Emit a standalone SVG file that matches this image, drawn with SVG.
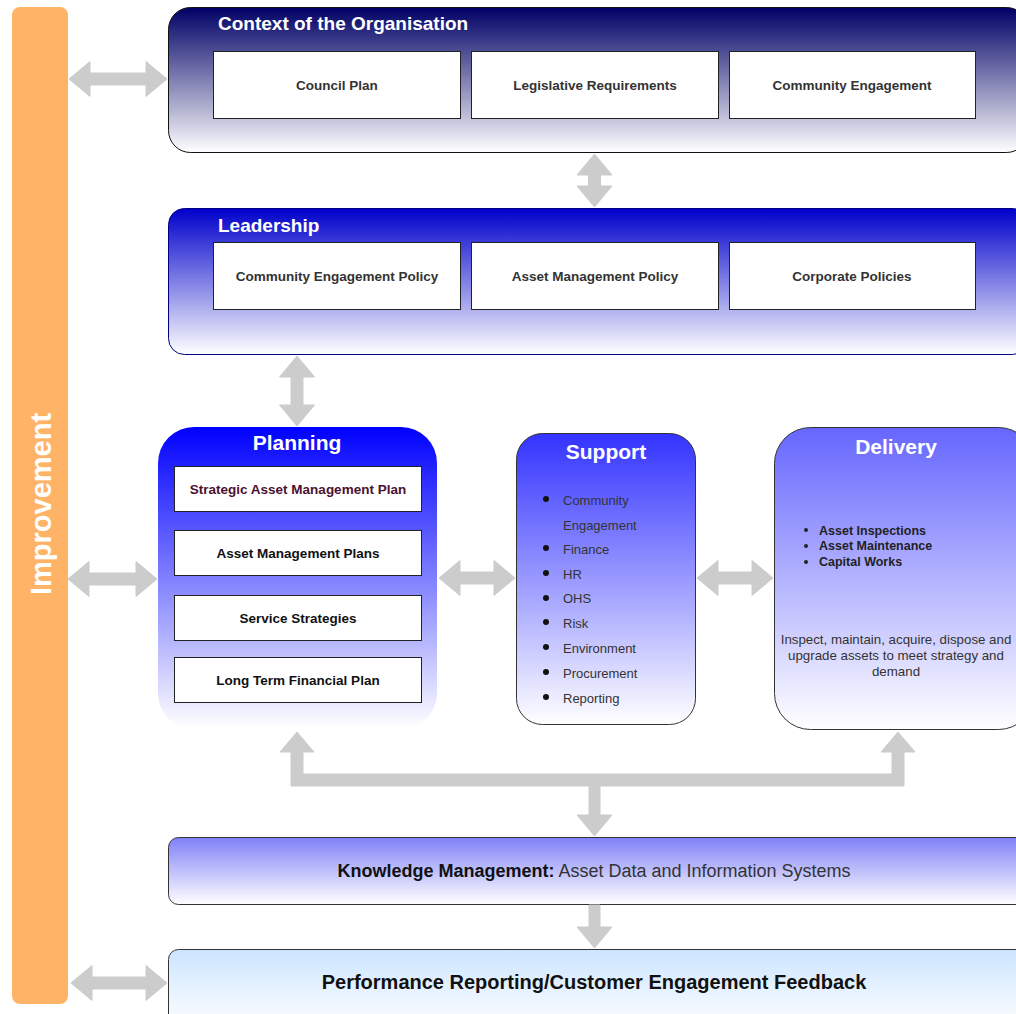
<svg xmlns="http://www.w3.org/2000/svg" width="1016" height="1014" viewBox="0 0 1016 1014">
<defs>
<linearGradient id="gCtx" x1="0" y1="0" x2="0" y2="1"><stop offset="0" stop-color="#000066"/><stop offset="1" stop-color="#ffffff"/></linearGradient>
<linearGradient id="gLead" x1="0" y1="0" x2="0" y2="1"><stop offset="0" stop-color="#0000CC"/><stop offset="1" stop-color="#ffffff"/></linearGradient>
<linearGradient id="gPlan" x1="0" y1="0" x2="0" y2="1"><stop offset="0" stop-color="#0000FF"/><stop offset="1" stop-color="#ffffff"/></linearGradient>
<linearGradient id="gSup" x1="0" y1="0" x2="0" y2="1"><stop offset="0" stop-color="#3333FF"/><stop offset="1" stop-color="#ffffff"/></linearGradient>
<linearGradient id="gDel" x1="0" y1="0" x2="0" y2="1"><stop offset="0" stop-color="#6666FF"/><stop offset="1" stop-color="#ffffff"/></linearGradient>
<linearGradient id="gKm" x1="0" y1="0" x2="0" y2="1"><stop offset="0" stop-color="#8080F8"/><stop offset="1" stop-color="#ffffff"/></linearGradient>
<linearGradient id="gPerf" x1="0" y1="0" x2="0" y2="1"><stop offset="0" stop-color="#CCE5FF"/><stop offset="1" stop-color="#ffffff"/></linearGradient>
</defs>
<style>
text{font-family:"Liberation Sans",Arial,sans-serif}
.box{fill:#ffffff;stroke:#222;stroke-width:1}
.item{font-size:13.5px;font-weight:bold;fill:#333;text-anchor:middle}
.head{font-weight:bold;fill:#ffffff}
.arr{fill:#CCCCCC;stroke:#CCCCCC;stroke-width:1;stroke-linejoin:round}
.li{font-size:13px;fill:#333}
.dli{font-size:12.5px;font-weight:bold;fill:#222}
.para{font-size:13.3px;fill:#333;text-anchor:middle}
</style>

<g id="improvement">
<rect x="12" y="7" width="56" height="997" rx="8" fill="#FFB366"/>
<text transform="translate(51,504) rotate(-90)" text-anchor="middle" font-size="29" class="head">Improvement</text>
</g>

<g id="context">
<rect x="168.5" y="7.5" width="860" height="145" rx="22" fill="url(#gCtx)" stroke="#111" stroke-width="1"/>
<text x="218" y="30" font-size="19" class="head">Context of the Organisation</text>
<rect class="box" x="213.5" y="51.5" width="247" height="67"/>
<text class="item" x="337" y="90">Council Plan</text>
<rect class="box" x="471.5" y="51.5" width="247" height="67"/>
<text class="item" x="595" y="90">Legislative Requirements</text>
<rect class="box" x="729.5" y="51.5" width="246" height="67"/>
<text class="item" x="852" y="90">Community Engagement</text>
</g>

<g id="leadership">
<rect x="168.5" y="208.5" width="860" height="146" rx="16" fill="url(#gLead)" stroke="#000080" stroke-width="1"/>
<text x="218" y="232" font-size="19" class="head">Leadership</text>
<rect class="box" x="213.5" y="242.5" width="247" height="67"/>
<text class="item" x="337" y="281">Community Engagement Policy</text>
<rect class="box" x="471.5" y="242.5" width="247" height="67"/>
<text class="item" x="595" y="281">Asset Management Policy</text>
<rect class="box" x="729.5" y="242.5" width="246" height="67"/>
<text class="item" x="852" y="281">Corporate Policies</text>
</g>

<g id="planning">
<rect x="158" y="427" width="279" height="302" rx="36" fill="url(#gPlan)"/>
<text x="297" y="450" font-size="21" class="head" text-anchor="middle">Planning</text>
<rect class="box" x="174.5" y="466.5" width="247" height="45"/>
<text class="item" x="298" y="494" style="fill:#4C1130">Strategic Asset Management Plan</text>
<rect class="box" x="174.5" y="530.5" width="247" height="45"/>
<text class="item" x="298" y="558" style="fill:#111">Asset Management Plans</text>
<rect class="box" x="174.5" y="595.5" width="247" height="45"/>
<text class="item" x="298" y="623" style="fill:#111">Service Strategies</text>
<rect class="box" x="174.5" y="657.5" width="247" height="45"/>
<text class="item" x="298" y="685" style="fill:#111">Long Term Financial Plan</text>
</g>

<g id="support">
<rect x="516.5" y="433.5" width="179" height="291" rx="26" fill="url(#gSup)" stroke="#333" stroke-width="1"/>
<text x="606" y="459" font-size="21" class="head" text-anchor="middle">Support</text>
<g fill="#111">
<circle cx="546" cy="499" r="3"/><circle cx="546" cy="548" r="3"/><circle cx="546" cy="573" r="3"/><circle cx="546" cy="598" r="3"/><circle cx="546" cy="622" r="3"/><circle cx="546" cy="647" r="3"/><circle cx="546" cy="672" r="3"/><circle cx="546" cy="697" r="3"/>
</g>
<text class="li" x="563" y="505">Community</text>
<text class="li" x="563" y="530">Engagement</text>
<text class="li" x="563" y="554">Finance</text>
<text class="li" x="563" y="579">HR</text>
<text class="li" x="563" y="603">OHS</text>
<text class="li" x="563" y="628">Risk</text>
<text class="li" x="563" y="653">Environment</text>
<text class="li" x="563" y="678">Procurement</text>
<text class="li" x="563" y="703">Reporting</text>
</g>

<g id="delivery">
<rect x="774.5" y="427.5" width="260" height="302" rx="36" fill="url(#gDel)" stroke="#333" stroke-width="1"/>
<text x="896" y="454" font-size="21" class="head" text-anchor="middle">Delivery</text>
<g fill="#222"><circle cx="806" cy="530" r="2"/><circle cx="806" cy="546" r="2"/><circle cx="806" cy="562" r="2"/></g>
<text class="dli" x="819" y="534.5">Asset Inspections</text>
<text class="dli" x="819" y="550">Asset Maintenance</text>
<text class="dli" x="819" y="566">Capital Works</text>
<text class="para" x="896" y="644">Inspect, maintain, acquire, dispose and</text>
<text class="para" x="896" y="660">upgrade assets to meet strategy and</text>
<text class="para" x="896" y="676">demand</text>
</g>

<g id="knowledge">
<rect x="168.5" y="837.5" width="860" height="67" rx="10" fill="url(#gKm)" stroke="#333" stroke-width="1"/>
<text x="594" y="877" font-size="18" text-anchor="middle" fill="#333"><tspan font-weight="bold" fill="#111">Knowledge Management:</tspan> Asset Data and Information Systems</text>
</g>

<g id="performance">
<rect x="168.5" y="949.5" width="860" height="80" rx="10" fill="url(#gPerf)" stroke="#333" stroke-width="1"/>
<text x="594" y="989" font-size="20" font-weight="bold" text-anchor="middle" fill="#111">Performance Reporting/Customer Engagement Feedback</text>
</g>

<g id="connectors">
<polygon class="arr" points="69,79 90,61.5 90,73 146,73 146,61.5 167,79 146,96.5 146,85 90,85 90,96.5"/>
<polygon class="arr" points="594.5,154 612,175 600.5,175 600.5,186 612,186 594.5,207 577,186 588.5,186 588.5,175 577,175"/>
<polygon class="arr" points="297,356 314.5,377 303,377 303,405 314.5,405 297,426 279.5,405 291,405 291,377 279.5,377"/>
<polygon class="arr" points="68,579 89,561.5 89,573 136,573 136,561.5 157,579 136,596.5 136,585 89,585 89,596.5"/>
<polygon class="arr" points="439,578 460,560.5 460,572 494,572 494,560.5 515,578 494,595.5 494,584 460,584 460,595.5"/>
<polygon class="arr" points="697,578 718,560.5 718,572 752,572 752,560.5 773,578 752,595.5 752,584 718,584 718,595.5"/>
<polygon class="arr" points="71,983 92,965.5 92,977 146,977 146,965.5 167,983 146,1000.5 146,989 92,989 92,1000.5"/>
<polygon class="arr" points="297,732 314,752 303,752 303,774 892,774 892,752 881,752 898,732 915,752 904,752 904,786 600,786 600,815 612,815 594.5,836 577,815 589,815 589,786 291,786 291,752 280,752"/>
<polygon class="arr" points="589,905 600,905 600,927 612,927 594.5,948 577,927 589,927"/>
</g>
</svg>
